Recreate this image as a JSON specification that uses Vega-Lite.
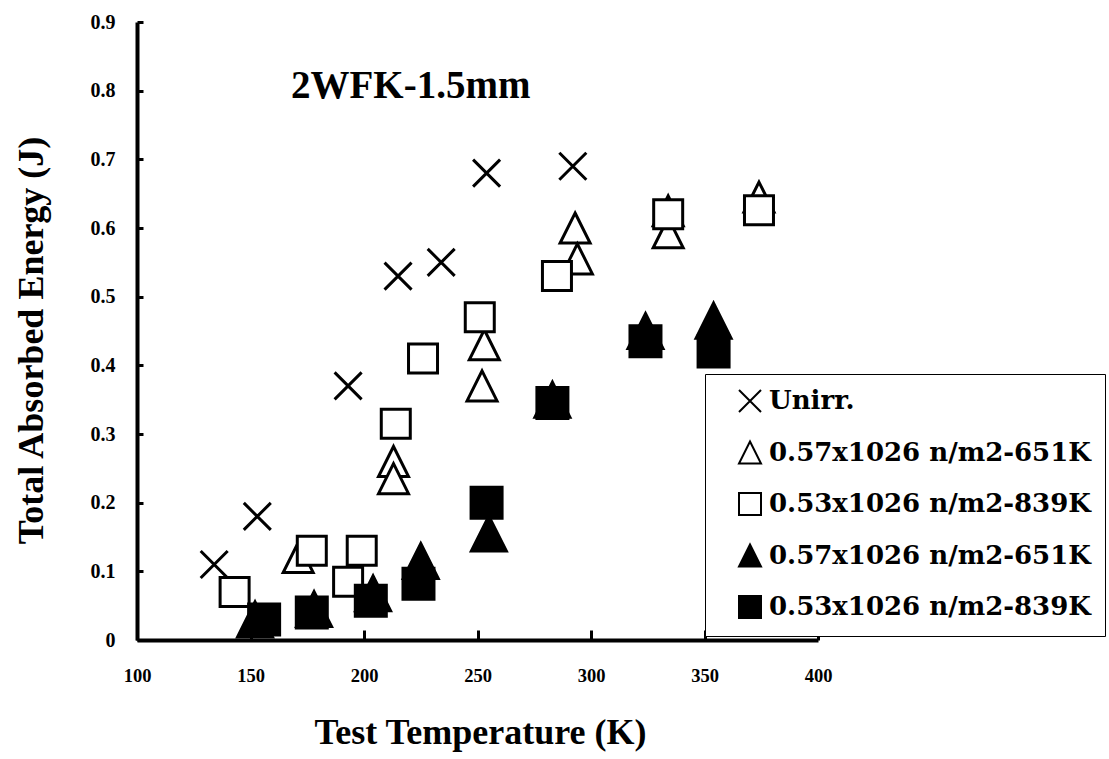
{
  "$schema": "https://vega.github.io/schema/vega-lite/v6.json",
  "width": 681,
  "height": 618,
  "autosize": {"type": "none"},
  "padding": {"left": 137, "top": 22, "right": 291, "bottom": 119},
  "background": "white",
  "title": {
    "text": "2WFK-1.5mm",
    "anchor": "start",
    "frame": "group",
    "orient": "top",
    "offset": -125,
    "dx": 154,
    "baseline": "alphabetic",
    "font": "Liberation Serif",
    "fontWeight": "bold",
    "fontSize": 39,
    "color": "black"
  },
  "config": {
    "view": {"stroke": null},
    "axis": {
      "grid": false,
      "domainColor": "black",
      "tickColor": "black",
      "labelColor": "black",
      "titleColor": "black",
      "labelFont": "Liberation Serif",
      "labelFontWeight": "bold",
      "titleFont": "Liberation Serif",
      "titleFontWeight": "bold",
      "labelFlush": false,
      "labelOverlap": false
    },
    "legend": {
      "labelFont": "DejaVu Serif",
      "labelFontWeight": "bold",
      "labelFontSize": 26,
      "labelColor": "black",
      "labelLimit": 500,
      "strokeColor": "black",
      "fillColor": "white",
      "padding": 14,
      "symbolOffset": 18,
      "rowPadding": 21.5,
      "labelOffset": 6,
      "symbolSize": 484,
      "symbolStrokeWidth": 2,
      "symbolStrokeColor": "black"
    }
  },
  "data": {
    "values": [
      {"s": "unirr", "T": 134, "E": 0.11},
      {"s": "unirr", "T": 153, "E": 0.18},
      {"s": "unirr", "T": 193, "E": 0.37},
      {"s": "unirr", "T": 215, "E": 0.53},
      {"s": "unirr", "T": 234, "E": 0.55},
      {"s": "unirr", "T": 254, "E": 0.68},
      {"s": "unirr", "T": 292, "E": 0.69},
      {"s": "open651", "T": 171, "E": 0.12},
      {"s": "open651", "T": 213, "E": 0.26},
      {"s": "open651", "T": 213, "E": 0.235},
      {"s": "open651", "T": 252, "E": 0.37},
      {"s": "open651", "T": 253, "E": 0.43},
      {"s": "open651", "T": 293, "E": 0.6},
      {"s": "open651", "T": 294, "E": 0.555},
      {"s": "open651", "T": 334, "E": 0.593},
      {"s": "open651", "T": 334, "E": 0.625},
      {"s": "open651", "T": 374, "E": 0.645},
      {"s": "open839", "T": 143, "E": 0.07},
      {"s": "open839", "T": 177, "E": 0.13},
      {"s": "open839", "T": 193, "E": 0.085},
      {"s": "open839", "T": 199, "E": 0.13},
      {"s": "open839", "T": 214, "E": 0.315},
      {"s": "open839", "T": 226, "E": 0.41},
      {"s": "open839", "T": 251, "E": 0.47},
      {"s": "open839", "T": 285, "E": 0.53},
      {"s": "open839", "T": 334, "E": 0.62},
      {"s": "open839", "T": 374, "E": 0.626},
      {"s": "filled651", "T": 152, "E": 0.03},
      {"s": "filled651", "T": 178, "E": 0.045},
      {"s": "filled651", "T": 204, "E": 0.068},
      {"s": "filled651", "T": 225, "E": 0.115},
      {"s": "filled651", "T": 255, "E": 0.155},
      {"s": "filled651", "T": 283, "E": 0.35},
      {"s": "filled651", "T": 324, "E": 0.45},
      {"s": "filled651", "T": 354, "E": 0.465},
      {"s": "filled839", "T": 156, "E": 0.03},
      {"s": "filled839", "T": 177, "E": 0.04},
      {"s": "filled839", "T": 203, "E": 0.057},
      {"s": "filled839", "T": 224, "E": 0.082},
      {"s": "filled839", "T": 254, "E": 0.2},
      {"s": "filled839", "T": 283, "E": 0.345},
      {"s": "filled839", "T": 324, "E": 0.435},
      {"s": "filled839", "T": 354, "E": 0.42}
    ]
  },
  "encoding": {
    "x": {
      "field": "T",
      "type": "quantitative",
      "scale": {"domain": [100, 400], "nice": false, "zero": false},
      "axis": {
        "title": "Test Temperature (K)",
        "values": [100, 150, 200, 250, 300, 350, 400],
        "format": "d",
        "domainWidth": 4,
        "tickSize": -10,
        "tickWidth": 3,
        "labelPadding": 51,
        "labelBaseline": "alphabetic",
        "labelFontSize": 18.5,
        "titleFontSize": 36,
        "titleBaseline": "alphabetic",
        "titleX": 343,
        "titleY": 103
      }
    },
    "y": {
      "field": "E",
      "type": "quantitative",
      "scale": {"domain": [0, 0.9], "nice": false},
      "axis": {
        "title": "Total Absorbed Energy (J)",
        "values": [0, 0.1, 0.2, 0.3, 0.4, 0.5, 0.6, 0.7, 0.8, 0.9],
        "format": ".1~f",
        "domainWidth": 4,
        "tickSize": -6,
        "tickWidth": 3,
        "labelPadding": 28,
        "labelFontSize": 20,
        "titleFontSize": 36,
        "titleBaseline": "alphabetic",
        "titleAngle": -90,
        "titleAlign": "center",
        "titleX": -95,
        "titleY": 318
      }
    },
    "shape": {
      "field": "s",
      "type": "nominal",
      "scale": {
        "domain": ["unirr", "open651", "open839", "filled651", "filled839"],
        "range": ["M-1,-1L1,1M-1,1L1,-1", "M0,-1L1,1L-1,1Z", "square", "M0,-1L1,1L-1,1Z", "square"]
      },
      "legend": {
        "orient": "none",
        "legendX": 568,
        "legendY": 352,
        "title": null,
        "labelExpr": "datum.value == 'unirr' ? 'Unirr.' : (datum.value == 'open651' || datum.value == 'filled651') ? '0.57x1026 n/m2-651K' : '0.53x1026 n/m2-839K'"
      }
    },
    "fill": {
      "field": "s",
      "type": "nominal",
      "scale": {
        "domain": ["unirr", "open651", "open839", "filled651", "filled839"],
        "range": ["white", "white", "white", "black", "black"]
      },
      "legend": {
        "orient": "none",
        "legendX": 568,
        "legendY": 352,
        "title": null,
        "labelExpr": "datum.value == 'unirr' ? 'Unirr.' : (datum.value == 'open651' || datum.value == 'filled651') ? '0.57x1026 n/m2-651K' : '0.53x1026 n/m2-839K'"
      }
    },
    "stroke": {
      "field": "s",
      "type": "nominal",
      "scale": {
        "domain": ["unirr", "open651", "open839", "filled651", "filled839"],
        "range": ["black", "black", "black", "black", "black"]
      },
      "legend": {
        "orient": "none",
        "legendX": 568,
        "legendY": 352,
        "title": null,
        "labelExpr": "datum.value == 'unirr' ? 'Unirr.' : (datum.value == 'open651' || datum.value == 'filled651') ? '0.57x1026 n/m2-651K' : '0.53x1026 n/m2-839K'"
      }
    }
  },
  "layer": [
    {
      "transform": [{"filter": "datum.s == 'unirr'"}],
      "mark": {"type": "point", "strokeWidth": 3, "opacity": 1, "size": 729}
    },
    {
      "transform": [{"filter": "datum.s == 'open651'"}],
      "mark": {"type": "point", "strokeWidth": 3, "opacity": 1, "strokeJoin": "miter", "size": 900}
    },
    {
      "transform": [{"filter": "datum.s == 'open839'"}],
      "mark": {"type": "point", "strokeWidth": 3, "opacity": 1, "strokeJoin": "miter", "size": 841}
    },
    {
      "transform": [{"filter": "datum.s == 'filled651'"}],
      "mark": {"type": "point", "strokeWidth": 3, "opacity": 1, "strokeJoin": "miter", "size": 1225}
    },
    {
      "transform": [{"filter": "datum.s == 'filled839'"}],
      "mark": {"type": "point", "strokeWidth": 3, "opacity": 1, "strokeJoin": "miter", "size": 961}
    }
  ]
}
